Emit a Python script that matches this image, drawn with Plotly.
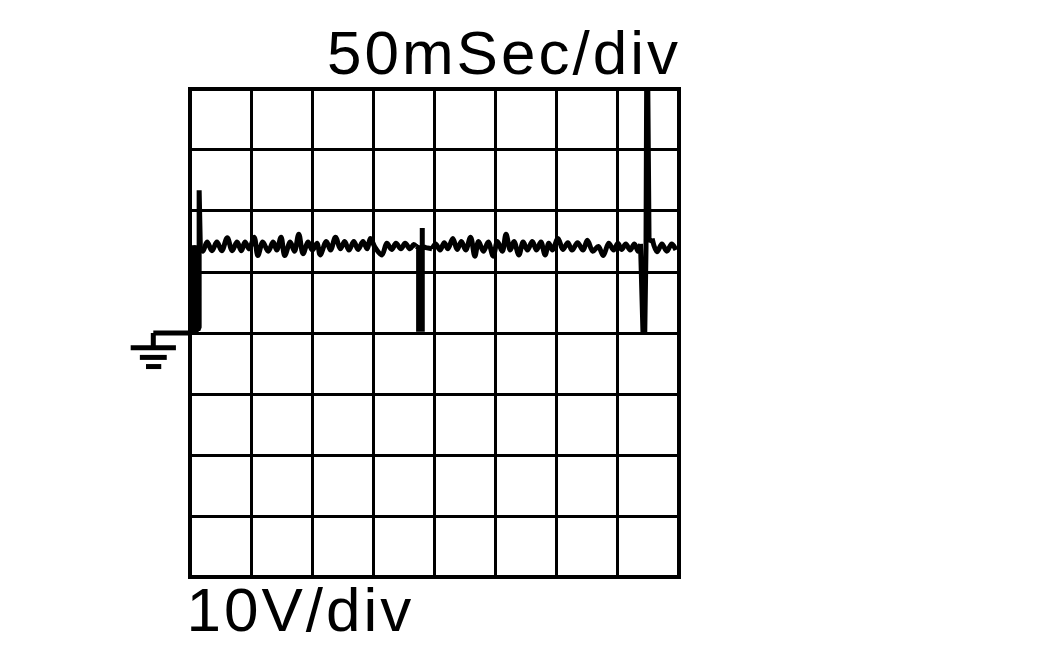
import plotly.graph_objects as go

# all values are in scope divisions, 0 V (ground marker) is y = 0
wave1_x = [0.17, 0.21, 0.28, 0.36, 0.44, 0.52, 0.61, 0.69, 0.77, 0.84, 0.90, 0.97, 1.05, 1.11, 1.19, 1.28, 1.36,
           1.42, 1.49, 1.55, 1.64, 1.71, 1.78, 1.85, 1.93, 2.00, 2.08, 2.13, 2.23, 2.30, 2.38, 2.46, 2.53, 2.60,
           2.68, 2.75, 2.83, 2.90, 2.95, 3.03, 3.14, 3.22, 3.30, 3.37, 3.45, 3.52, 3.60, 3.66, 3.70]
wave1_y = [1.38, 1.34, 1.49, 1.35, 1.49, 1.35, 1.56, 1.35, 1.49, 1.35, 1.49, 1.38, 1.57, 1.27, 1.49, 1.34, 1.49,
           1.36, 1.57, 1.27, 1.49, 1.34, 1.62, 1.30, 1.49, 1.36, 1.47, 1.28, 1.50, 1.36, 1.57, 1.38, 1.50, 1.36,
           1.50, 1.37, 1.50, 1.38, 1.55, 1.40, 1.28, 1.47, 1.37, 1.47, 1.38, 1.47, 1.38, 1.45, 1.42]

wave2_x = [3.96, 4.02, 4.09, 4.16, 4.22, 4.30, 4.37, 4.44, 4.51, 4.59, 4.66, 4.72, 4.80, 4.88, 4.96, 5.03, 5.11,
           5.17, 5.24, 5.30, 5.38, 5.45, 5.52, 5.60, 5.67, 5.74, 5.81, 5.87, 5.93, 6.02, 6.10, 6.18, 6.25, 6.34,
           6.43, 6.50, 6.59, 6.68, 6.76, 6.85, 6.93, 7.00, 7.06, 7.13, 7.20, 7.27, 7.33, 7.37]
wave2_y = [1.38, 1.46, 1.36, 1.48, 1.38, 1.55, 1.37, 1.50, 1.36, 1.57, 1.26, 1.50, 1.34, 1.49, 1.26, 1.50, 1.34,
           1.62, 1.36, 1.50, 1.28, 1.49, 1.36, 1.50, 1.36, 1.49, 1.28, 1.47, 1.36, 1.55, 1.37, 1.48, 1.36, 1.48,
           1.36, 1.52, 1.34, 1.42, 1.27, 1.47, 1.36, 1.47, 1.37, 1.46, 1.36, 1.46, 1.34, 1.46]

wave3_x = [7.56, 7.64, 7.72, 7.80, 7.88, 7.95]
wave3_y = [1.55, 1.33, 1.46, 1.34, 1.46, 1.36]

# fast edges, not smoothed
edge1_x = [0.05, 0.05, 0.07, 0.08, 0.09, 0.10, 0.11, 0.12, 0.13, 0.15, 0.15, 0.17]
edge1_y = [0.0, 1.44, 0.02, 1.44, 0.02, 1.44, 0.05, 1.44, 0.05, 0.1, 2.34, 1.38]
edge2_x = [3.70, 3.74, 3.74, 3.76, 3.77, 3.78, 3.80, 3.80, 3.80, 3.86, 3.96]
edge2_y = [1.42, 1.40, 0.02, 1.40, 0.02, 1.40, 0.02, 1.72, 1.42, 1.40, 1.38]
edge3_x = [7.37, 7.39, 7.41, 7.44, 7.46, 7.47, 7.49, 7.51, 7.56]
edge3_y = [1.46, 0.30, 0.02, 0.02, 1.40, 3.95, 3.95, 1.50, 1.55]

ground_x = [0.0, -0.60, -0.60]
ground_y = [0.0, 0.0, -0.24]
bars_x = [(-0.97, -0.23), (-0.82, -0.38), (-0.72, -0.47)]
bars_y = [-0.24, -0.40, -0.55]

X_RANGE = [0.033, 7.967]
Y_RANGE = [-3.967, 3.967]


def to_paper(x, y):
    return ((x - X_RANGE[0]) / (X_RANGE[1] - X_RANGE[0]),
            (y - Y_RANGE[0]) / (Y_RANGE[1] - Y_RANGE[0]))


def paper_line(x0, y0, x1, y1, width):
    px0, py0 = to_paper(x0, y0)
    px1, py1 = to_paper(x1, y1)
    return dict(type="line", xref="paper", yref="paper", x0=px0, y0=py0, x1=px1, y1=py1,
                line=dict(color="black", width=width))


fig = go.Figure()

for x, y in [(wave1_x, wave1_y), (wave2_x, wave2_y), (wave3_x, wave3_y)]:
    fig.add_trace(go.Scatter(x=x, y=y, mode='lines', line=dict(color="black", width=5, shape='spline', smoothing=1)))
for x, y in [(edge1_x, edge1_y), (edge2_x, edge2_y), (edge3_x, edge3_y)]:
    fig.add_trace(go.Scatter(x=x, y=y, mode='lines', line=dict(color="black", width=5)))

# ground symbol sits left of the plot area, so it has to be paper shapes
shapes = [paper_line(ground_x[0], ground_y[0], ground_x[1], ground_y[1], 5),
          paper_line(ground_x[1], ground_y[1], ground_x[2], ground_y[2], 5)]
for (x0, x1), y in zip(bars_x, bars_y):
    shapes.append(paper_line(x0, y, x1, y, 5))

fig.update_layout(go.Layout(
    width=1052,
    height=650,
    margin=dict(l=184, r=383, t=83, b=83),
    showlegend=False,
    plot_bgcolor="white",
    paper_bgcolor="white",
    shapes=shapes,
    xaxis=dict(range=X_RANGE, tick0=0, dtick=1, showticklabels=False, ticks="", zeroline=False,
               gridcolor="black", gridwidth=3, showline=True, linecolor="black", linewidth=4, mirror=True),
    yaxis=dict(range=Y_RANGE, tick0=0, dtick=1, showticklabels=False, ticks="", zeroline=False,
               gridcolor="black", gridwidth=3, showline=True, linecolor="black", linewidth=4, mirror=True),
    annotations=[
        dict(text="50mSec/div", xref="paper", yref="paper", x=to_paper(5.13, 0)[0], y=to_paper(0, 4.6)[1],
             xanchor="center", yanchor="middle", showarrow=False, borderpad=0,
             font=dict(size=62, family="Liberation Sans", color="black")),
        dict(text="10V/div", xref="paper", yref="paper", x=to_paper(1.80, 0)[0], y=to_paper(0, -4.53)[1],
             xanchor="center", yanchor="middle", showarrow=False, borderpad=0,
             font=dict(size=62, family="Liberation Sans", color="black")),
    ]
))

# the labels on the original are spaced wider than the font
fig.write_html("out.html", post_script=(
    "document.querySelectorAll('.annotation-text').forEach(function(t){t.style.letterSpacing='3px';});"
))
